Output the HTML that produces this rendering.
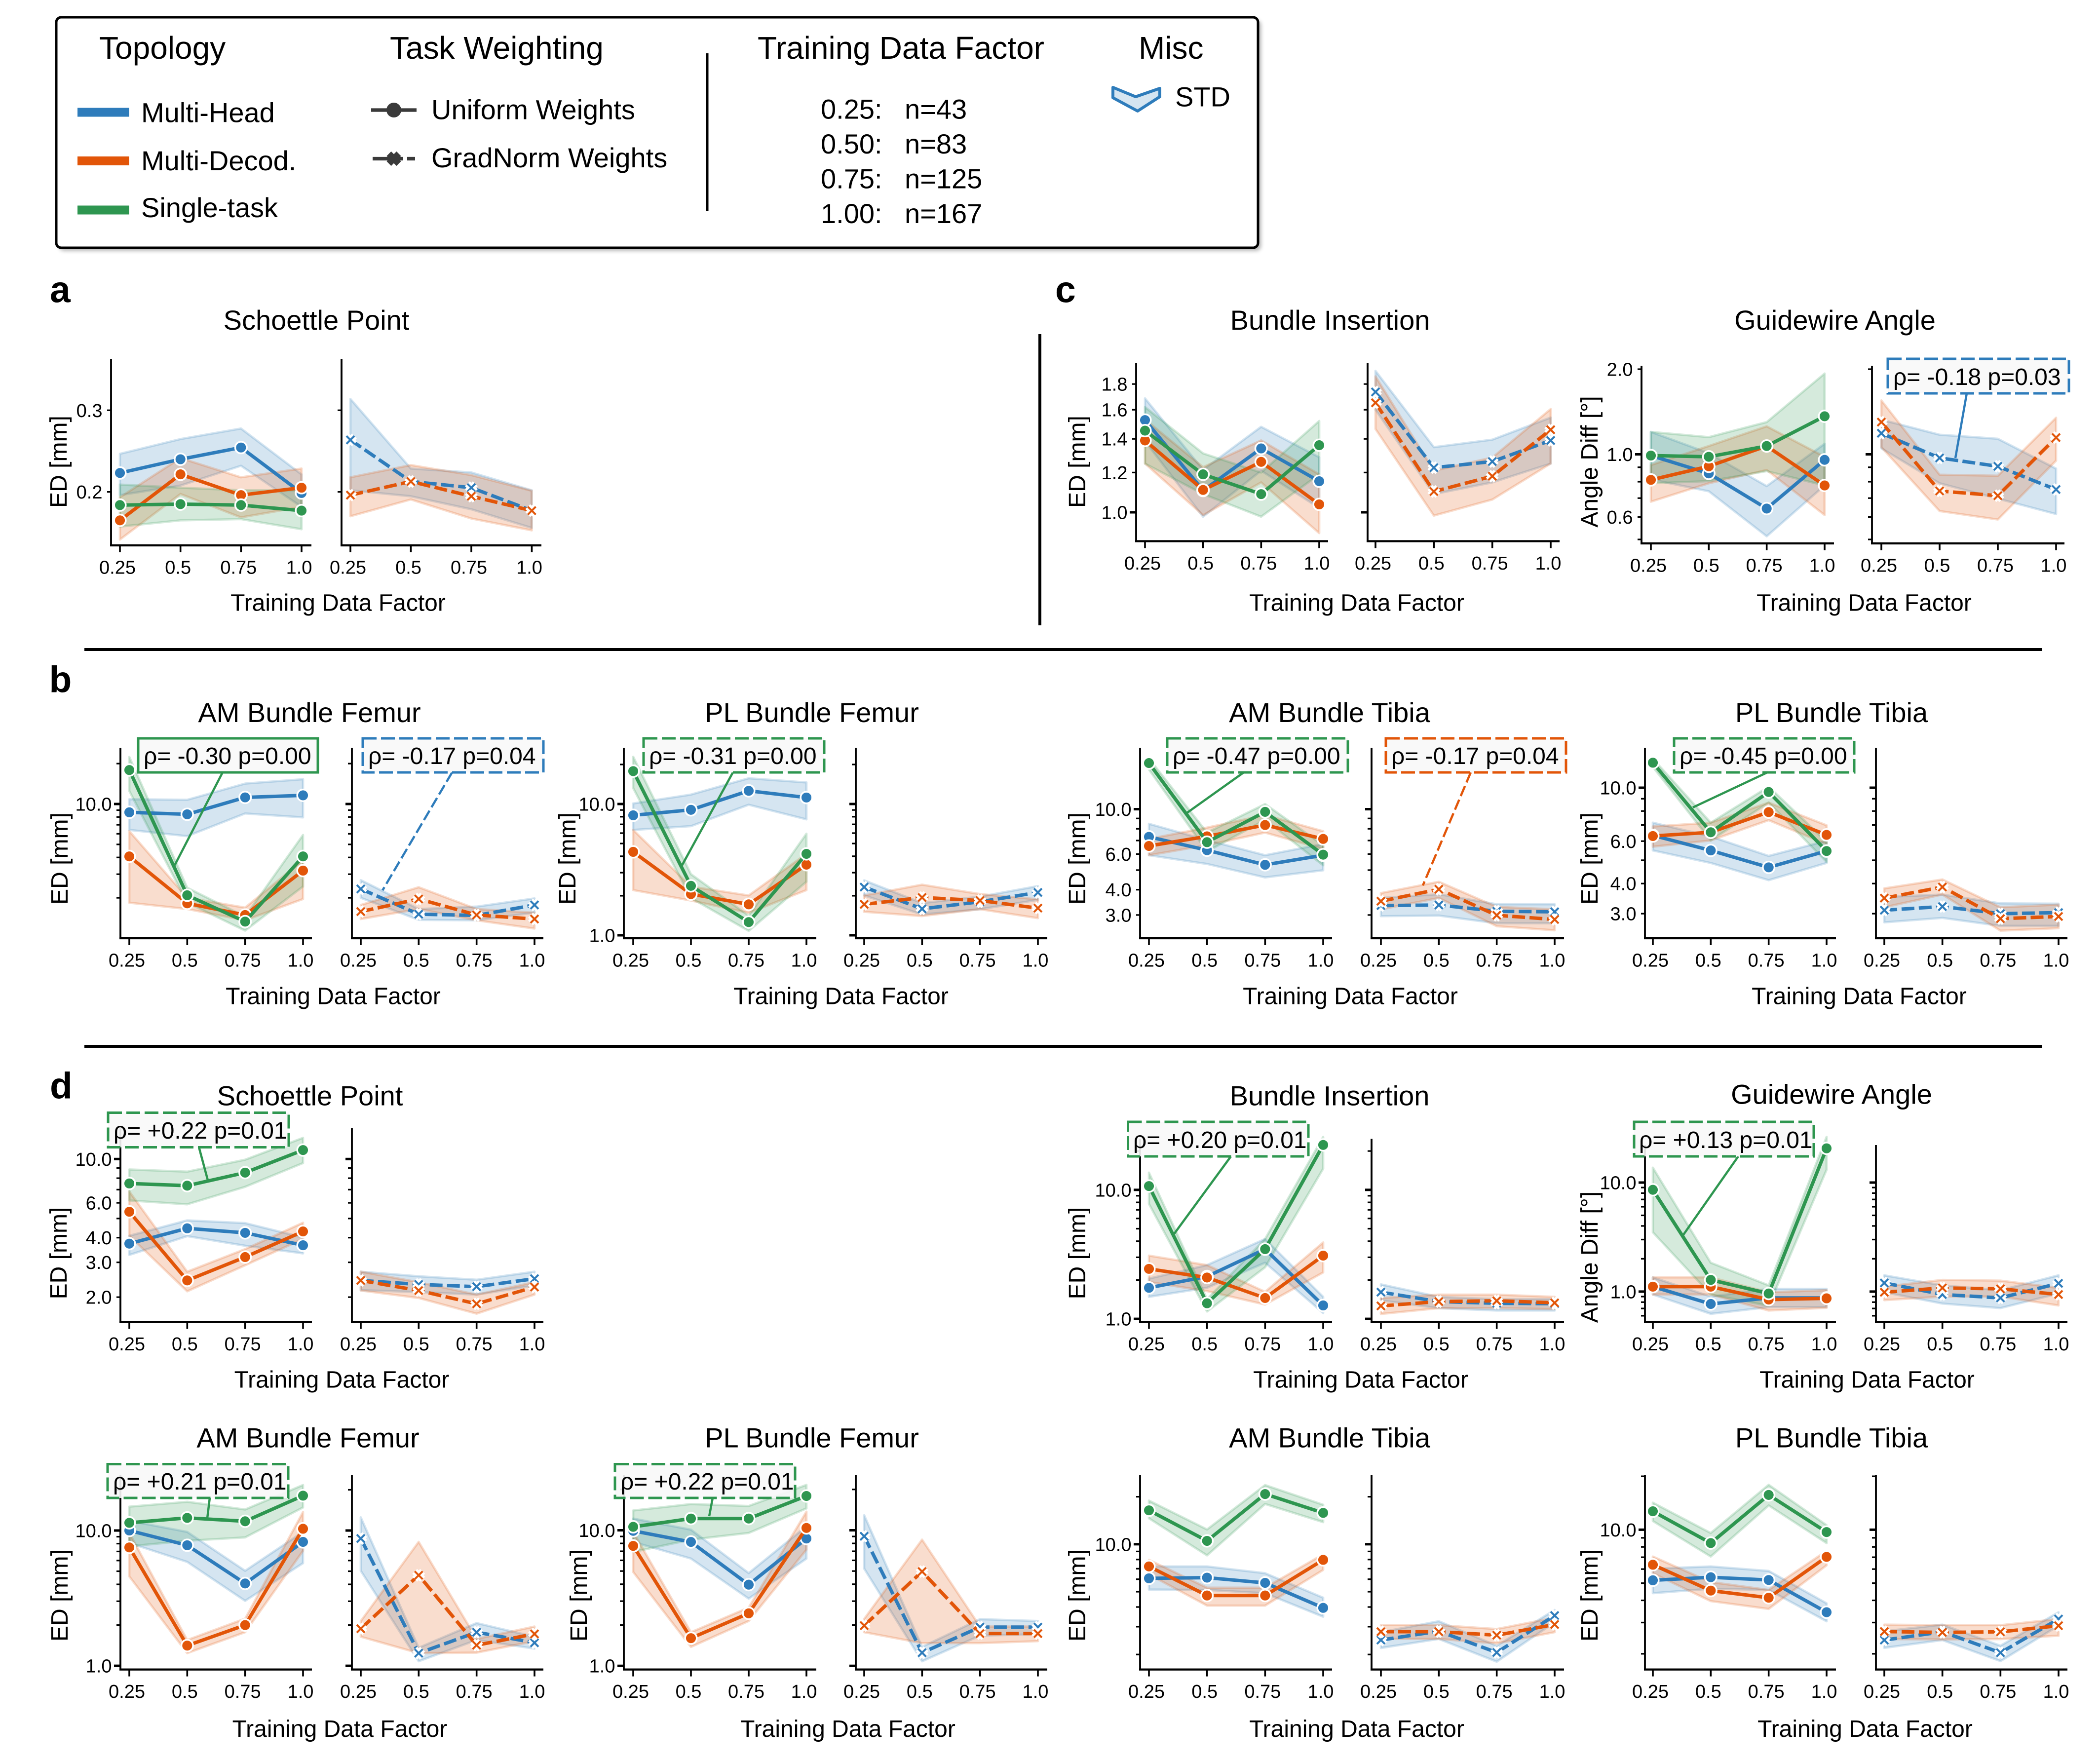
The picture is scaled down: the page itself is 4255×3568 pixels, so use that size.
<!DOCTYPE html>
<html lang="en">
<head>
<meta charset="utf-8">
<title>Training data factor vs error metrics</title>
<style>
html,body{margin:0;padding:0;background:#fff}
svg{display:block}
text{font-family:"Liberation Sans",sans-serif;fill:#000}
.tt{font-size:56px;text-anchor:middle}
.xl{font-size:48px;text-anchor:middle}
.yl{font-size:48px;text-anchor:middle}
.ltitle{font-size:64px}
.lent{font-size:56px}
.ann{font-size:48px}
.letter{font-size:75px;font-weight:bold}
.annbg{fill:#f8f8f8;fill-opacity:.9;stroke-width:5}
.gd{stroke:#2e964f;stroke-dasharray:28 9}
.gs{stroke:#2e964f}
.bd{stroke:#2e7cbb;stroke-dasharray:28 9}
.od{stroke:#e25508;stroke-dasharray:28 9}
</style>
</head>
<body>
<svg id="figure" xmlns="http://www.w3.org/2000/svg" width="4255" height="3568" viewBox="0 0 4255 3568">
<defs><filter id="blur" x="-5%" y="-10%" width="110%" height="120%"><feGaussianBlur stdDeviation="4"/></filter></defs>
<rect width="4255" height="3568" fill="#fff"/>

<g>
  <rect x="120" y="41" width="2435" height="467" rx="10" fill="#777" opacity=".55" filter="url(#blur)"/>
  <rect x="114" y="35" width="2435" height="467" rx="10" fill="#fff" stroke="#000" stroke-width="5"/>
  <text class="ltitle" x="201" y="119">Topology</text>
  <text class="ltitle" x="790" y="119">Task Weighting</text>
  <text class="ltitle" x="1535" y="119">Training Data Factor</text>
  <text class="ltitle" x="2307" y="119">Misc</text>
  <rect x="157" y="218.500" width="104.500" height="18" fill="#2e7cbb"/>
  <text class="lent" x="286" y="247.500">Multi-Head</text>
  <rect x="157" y="317" width="104.500" height="18" fill="#e25508"/>
  <text class="lent" x="286" y="345">Multi-Decod.</text>
  <rect x="157" y="416.500" width="104.500" height="18" fill="#2e9650"/>
  <text class="lent" x="286" y="440">Single-task</text>
  <g>
    <line x1="752" y1="223" x2="844" y2="223" stroke="#3a3a3a" stroke-width="7.300"/>
    <circle cx="798" cy="223" r="15" fill="#3a3a3a"/>
  </g>
  <text class="lent" x="874" y="241.500">Uniform Weights</text>
  <g>
    <line x1="755" y1="321.500" x2="817" y2="321.500" stroke="#3a3a3a" stroke-width="7.300"/>
    <line x1="825" y1="321.500" x2="841" y2="321.500" stroke="#3a3a3a" stroke-width="7.300"/>
    <path d="M788 311.500 L808 331.500 M808 311.500 L788 331.500" stroke="#3a3a3a" stroke-width="13" fill="none"/>
  </g>
  <text class="lent" x="874" y="339">GradNorm Weights</text>
  <line x1="1433" y1="108" x2="1433" y2="427" stroke="#000" stroke-width="5"/>
  <text class="lent" x="1663" y="240.500">0.25:</text><text class="lent" x="1833" y="240.500">n=43</text>
  <text class="lent" x="1663" y="311">0.50:</text><text class="lent" x="1833" y="311">n=83</text>
  <text class="lent" x="1663" y="381.500">0.75:</text><text class="lent" x="1833" y="381.500">n=125</text>
  <text class="lent" x="1663" y="452">1.00:</text><text class="lent" x="1833" y="452">n=167</text>
  <polygon points="2255,177 2301,196 2350,179 2350,196 2305,225 2255,198" fill="#2e7cbb" fill-opacity=".2" stroke="#2e7cbb" stroke-width="6" stroke-linejoin="round"/>
  <text class="lent" x="2381" y="215.500">STD</text>
</g>

<text class="letter" x="101" y="612.500">a</text>
<text class="letter" x="99.500" y="1402.500">b</text>
<text class="letter" x="2138" y="612.500">c</text>
<text class="letter" x="101" y="2225.500">d</text>

<line x1="2107" y1="677" x2="2107" y2="1267" stroke="#000" stroke-width="6"/>
<line x1="171" y1="1316" x2="4138" y2="1316" stroke="#000" stroke-width="6"/>
<line x1="171" y1="2120" x2="4138" y2="2120" stroke="#000" stroke-width="6"/>

<g id="plots"></g>

<g>
  <text class="tt" x="641" y="668">Schoettle Point</text>
  <text class="tt" x="2695" y="668">Bundle Insertion</text>
  <text class="tt" x="3718" y="668">Guidewire Angle</text>
  <text class="tt" x="627" y="1463">AM Bundle Femur</text>
  <text class="tt" x="1645" y="1463">PL Bundle Femur</text>
  <text class="tt" x="2694" y="1463">AM Bundle Tibia</text>
  <text class="tt" x="3711" y="1463">PL Bundle Tibia</text>
  <text class="tt" x="628" y="2239.500">Schoettle Point</text>
  <text class="tt" x="2694" y="2239.500">Bundle Insertion</text>
  <text class="tt" x="3711" y="2236.500">Guidewire Angle</text>
  <text class="tt" x="624" y="2932.500">AM Bundle Femur</text>
  <text class="tt" x="1645" y="2932.500">PL Bundle Femur</text>
  <text class="tt" x="2694" y="2932.500">AM Bundle Tibia</text>
  <text class="tt" x="3711" y="2932.500">PL Bundle Tibia</text>
</g>

<g>
  <text class="xl" x="685" y="1237.500">Training Data Factor</text>
  <text class="xl" x="2749" y="1237.500">Training Data Factor</text>
  <text class="xl" x="3777" y="1237.500">Training Data Factor</text>
  <text class="xl" x="675" y="2034.500">Training Data Factor</text>
  <text class="xl" x="1704" y="2034.500">Training Data Factor</text>
  <text class="xl" x="2736" y="2034.500">Training Data Factor</text>
  <text class="xl" x="3767" y="2034.500">Training Data Factor</text>
  <text class="xl" x="692.500" y="2811.500">Training Data Factor</text>
  <text class="xl" x="2757" y="2811.500">Training Data Factor</text>
  <text class="xl" x="3783" y="2811.500">Training Data Factor</text>
  <text class="xl" x="688.500" y="3519">Training Data Factor</text>
  <text class="xl" x="1718" y="3519">Training Data Factor</text>
  <text class="xl" x="2749" y="3519">Training Data Factor</text>
  <text class="xl" x="3779" y="3519">Training Data Factor</text>
</g>

<g>
  <text class="yl" transform="translate(135,935.500) rotate(-90)">ED [mm]</text>
  <text class="yl" transform="translate(2199,935.500) rotate(-90)">ED [mm]</text>
  <text class="yl" transform="translate(3237,935.500) rotate(-90)">Angle Diff [°]</text>
  <text class="yl" transform="translate(137,1739.500) rotate(-90)">ED [mm]</text>
  <text class="yl" transform="translate(1166,1739.500) rotate(-90)">ED [mm]</text>
  <text class="yl" transform="translate(2199,1739.500) rotate(-90)">ED [mm]</text>
  <text class="yl" transform="translate(3237,1739.500) rotate(-90)">ED [mm]</text>
  <text class="yl" transform="translate(135,2539) rotate(-90)">ED [mm]</text>
  <text class="yl" transform="translate(2199,2539) rotate(-90)">ED [mm]</text>
  <text class="yl" transform="translate(3237,2547) rotate(-90)">Angle Diff [°]</text>
  <text class="yl" transform="translate(137,3232.500) rotate(-90)">ED [mm]</text>
  <text class="yl" transform="translate(1189,3232.500) rotate(-90)">ED [mm]</text>
  <text class="yl" transform="translate(2199,3232.500) rotate(-90)">ED [mm]</text>
  <text class="yl" transform="translate(3237,3232.500) rotate(-90)">ED [mm]</text>
</g>

<g>
  <g>
    <line x1="3985" y1="797" x2="3962" y2="928" stroke="#2e7cbb" stroke-width="4.500"/>
    <rect class="annbg bd" x="3825" y="727" width="367" height="70"/>
    <text class="ann" x="3836" y="780">ρ= -0.18 p=0.03</text>
  </g>
  <g>
    <line x1="451" y1="1565" x2="354" y2="1753" stroke="#2e9650" stroke-width="4.500"/>
    <rect class="annbg gs" x="280" y="1496" width="364" height="69"/>
    <text class="ann" x="291" y="1548">ρ= -0.30 p=0.00</text>
  </g>
  <g>
    <line x1="916" y1="1565" x2="775" y2="1804" stroke="#2e7cbb" stroke-width="4.500" stroke-dasharray="22 8"/>
    <rect class="annbg bd" x="735" y="1496" width="366" height="69"/>
    <text class="ann" x="746" y="1548">ρ= -0.17 p=0.04</text>
  </g>
  <g>
    <line x1="1485" y1="1565" x2="1382" y2="1753" stroke="#2e9650" stroke-width="4.500"/>
    <rect class="annbg gd" x="1304" y="1496" width="366" height="69"/>
    <text class="ann" x="1315" y="1548">ρ= -0.31 p=0.00</text>
  </g>
  <g>
    <line x1="2520" y1="1565" x2="2405" y2="1647" stroke="#2e9650" stroke-width="4.500"/>
    <rect class="annbg gd" x="2365" y="1496" width="366" height="69"/>
    <text class="ann" x="2376" y="1548">ρ= -0.47 p=0.00</text>
  </g>
  <g>
    <line x1="2980" y1="1565" x2="2883" y2="1794" stroke="#e25508" stroke-width="4.500" stroke-dasharray="22 8"/>
    <rect class="annbg od" x="2808" y="1496" width="365" height="69"/>
    <text class="ann" x="2819" y="1548">ρ= -0.17 p=0.04</text>
  </g>
  <g>
    <line x1="3581" y1="1565" x2="3430" y2="1636" stroke="#2e9650" stroke-width="4.500"/>
    <rect class="annbg gd" x="3392" y="1496" width="365" height="69"/>
    <text class="ann" x="3403" y="1548">ρ= -0.45 p=0.00</text>
  </g>
  <g>
    <line x1="403" y1="2324" x2="421" y2="2391" stroke="#2e9650" stroke-width="4.500"/>
    <rect class="annbg gd" x="219" y="2254.500" width="366" height="70"/>
    <text class="ann" x="230" y="2307">ρ= +0.22 p=0.01</text>
  </g>
  <g>
    <line x1="2494" y1="2343" x2="2379" y2="2500" stroke="#2e9650" stroke-width="4.500"/>
    <rect class="annbg gd" x="2285.500" y="2273" width="365.500" height="70"/>
    <text class="ann" x="2296" y="2326">ρ= +0.20 p=0.01</text>
  </g>
  <g>
    <line x1="3522" y1="2343" x2="3410" y2="2503" stroke="#2e9650" stroke-width="4.500"/>
    <rect class="annbg gd" x="3311" y="2273" width="364" height="70"/>
    <text class="ann" x="3321" y="2326">ρ= +0.13 p=0.01</text>
  </g>
  <g>
    <line x1="425" y1="3035" x2="420" y2="3076" stroke="#2e9650" stroke-width="4.500"/>
    <rect class="annbg gd" x="218" y="2966.500" width="366" height="68.500"/>
    <text class="ann" x="229" y="3018">ρ= +0.21 p=0.01</text>
  </g>
  <g>
    <line x1="1444" y1="3035" x2="1437" y2="3072" stroke="#2e9650" stroke-width="4.500"/>
    <rect class="annbg gd" x="1246" y="2966.500" width="365" height="68.500"/>
    <text class="ann" x="1257" y="3018">ρ= +0.22 p=0.01</text>
  </g>
</g>
</svg>

<script>
// ---------- shared axis data ----------
const xCategories = [0.25, 0.5, 0.75, 1.0];
const xTickLabels = ['0.25', '0.5', '0.75', '1.0'];
const ticksMinorFull = [20, 9, 8, 7, 6, 5, 4, 3, 2];
const ticksMinorNoTop = [9, 8, 7, 6, 5, 4, 3];
const ticksMinorNo20 = [9, 8, 7, 6, 5, 4, 3, 2];
const ticksMinorGuideC = [2, 0.9, 0.8, 0.7, 0.6, 0.5];
const ticksMinorGuideD = [9, 8, 7, 6, 5, 4, 3, 2, 0.9, 0.8, 0.7, 0.6];
const ticksMinorBundleC = [1.2, 1.4, 1.6, 1.8];
const ticksMinorA = [0.2, 0.3];
const labelsA = [0.2, 0.3];
const labelsBundleC = [1.0, 1.2, 1.4, 1.6, 1.8];
const labelsGuideC = [2.0, 1.0, 0.6];
const labels10 = [10];
const labels10and1 = [10, 1];
const labelsTibiaB = [10, 6, 4, 3];
const labelsSchoettleD = [10, 6, 4, 3, 2];

// ---------- a: Schoettle Point ----------
const aU_head_mean=[.2197,.2352,.2493,.1989], aU_head_lo=[.1968,.2064,.2277,.1857], aU_head_hi=[.2416,.26,.274,.2182];
const aU_dec_mean=[.1736,.2182,.1968,.2042], aU_dec_lo=[.1578,.1979,.1762,.1857], aU_dec_hi=[.1947,.2366,.215,.2246];
const aU_single_mean=[.1873,.1882,.1873,.1822], aU_single_lo=[.1683,.1736,.1747,.1661], aU_single_hi=[.2074,.2042,.2016,.2016];
const aG_head_mean=[.2589,.2106,.2042,.1822], aG_head_lo=[.2016,.1957,.1834,.1672], aG_head_hi=[.3174,.2246,.2203,.2016];
const aG_dec_mean=[.1968,.2106,.1957,.1822], aG_dec_lo=[.1772,.1926,.1752,.1652], aG_dec_hi=[.215,.2285,.2174,.2011];

// ---------- c: Bundle Insertion ----------
const cbU_head_mean=[1.526,1.105,1.34,1.153], cbU_head_lo=[1.385,.98,1.21,1.02], cbU_head_hi=[1.686,1.215,1.48,1.287];
const cbU_dec_mean=[1.39,1.108,1.26,1.037], cbU_dec_lo=[1.25,.987,1.147,.909], cbU_dec_hi=[1.53,1.23,1.39,1.19];
const cbU_single_mean=[1.454,1.19,1.087,1.36], cbU_single_lo=[1.25,1.087,.98,1.19], cbU_single_hi=[1.62,1.31,1.2,1.52];
const cbG_head_mean=[1.736,1.227,1.262,1.39], cbG_head_lo=[1.6,1.087,1.147,1.25], cbG_head_hi=[1.912,1.348,1.395,1.544];
const cbG_dec_mean=[1.652,1.1,1.18,1.46], cbG_dec_lo=[1.465,.985,1.06,1.25], cbG_dec_hi=[1.864,1.21,1.285,1.605];

// ---------- c: Guidewire Angle ----------
const cgU_head_mean=[.99,.856,.643,.956], cgU_head_lo=[.815,.74,.513,.776], cgU_head_hi=[1.2,1.01,.772,1.09];
const cgU_dec_mean=[.812,.907,1.07,.776], cgU_dec_lo=[.68,.79,.88,.61], cgU_dec_hi=[.916,1.07,1.256,.98];
const cgU_single_mean=[.99,.98,1.07,1.363], cgU_single_lo=[.79,.804,.872,.776], cgU_single_hi=[1.2,1.15,1.3,1.93];
const cgG_head_mean=[1.187,.971,.907,.751], cgG_head_lo=[1.05,.79,.697,.615], cgG_head_hi=[1.326,1.173,1.135,.89];
const cgG_dec_mean=[1.3,.742,.714,1.146], cgG_dec_lo=[1.06,.63,.588,.95], cgG_dec_hi=[1.55,.847,.84,1.347];

// ---------- b: AM Bundle Femur ----------
const bafU_head_mean=[8.67,8.38,11.2,11.6], bafU_head_lo=[6.41,5.76,8.5,7.95], bafU_head_hi=[10.85,10.75,14.2,15.3];
const bafU_dec_mean=[4.07,1.82,1.49,3.19], bafU_dec_lo=[1.84,1.65,1.36,1.96], bafU_dec_hi=[6.28,2.0,1.69,3.82];
const bafU_single_mean=[17.9,2.09,1.33,4.07], bafU_single_lo=[12.5,1.84,1.14,2.43], bafU_single_hi=[22.4,2.38,1.45,5.88];
const bafG_head_mean=[2.33,1.51,1.48,1.77], bafG_head_lo=[2.0,1.37,1.36,1.55], bafG_head_hi=[2.71,1.65,1.72,1.98];
const bafG_dec_mean=[1.58,1.96,1.49,1.39], bafG_dec_lo=[1.39,1.65,1.36,1.18], bafG_dec_hi=[1.77,2.4,1.65,1.55];

// ---------- b: PL Bundle Femur ----------
const bpfU_head_mean=[8.2,9.03,12.6,11.2], bpfU_head_lo=[6.34,6.78,9.87,7.64], bpfU_head_hi=[10.1,11.8,15.7,14.6];
const bpfU_dec_mean=[4.32,2.06,1.72,3.45], bpfU_dec_lo=[2.21,1.84,1.48,2.21], bpfU_dec_hi=[6.34,2.35,2.01,4.17];
const bpfU_single_mean=[17.8,2.38,1.26,4.17], bpfU_single_lo=[13.2,1.92,1.08,2.56], bpfU_single_hi=[22.9,2.92,1.41,5.94];
const bpfG_head_mean=[2.33,1.59,1.8,2.12], bpfG_head_lo=[2.01,1.44,1.58,1.86], bpfG_head_hi=[2.62,1.76,1.97,2.37];
const bpfG_dec_mean=[1.72,1.94,1.84,1.61], bpfG_dec_lo=[1.51,1.4,1.58,1.35], bpfG_dec_hi=[2.01,2.43,2.06,1.88];

// ---------- b: AM Bundle Tibia ----------
const batU_head_mean=[7.3,6.27,5.31,5.92], batU_head_lo=[5.92,5.36,4.6,4.99], batU_head_hi=[8.47,7.03,5.92,6.73];
const batU_dec_mean=[6.58,7.34,8.35,7.13], batU_dec_lo=[5.92,6.64,7.66,6.36], batU_dec_hi=[7.13,8.11,9.36,7.78];
const batU_single_mean=[16.9,6.87,9.7,5.96], batU_single_lo=[15.7,6.18,8.85,5.28], batU_single_hi=[17.8,7.66,10.6,6.64];
const batG_head_mean=[3.34,3.36,3.13,3.11], batG_head_lo=[2.96,2.98,2.73,2.73], batG_head_hi=[3.64,3.8,3.39,3.39];
const batG_dec_mean=[3.51,4.02,2.99,2.85], batG_dec_lo=[3.2,3.64,2.64,2.52], batG_dec_hi=[3.85,4.38,3.29,3.2];

// ---------- b: PL Bundle Tibia ----------
const bptU_head_mean=[6.34,5.49,4.67,5.46], bptU_head_lo=[5.49,4.87,4.13,4.87], bptU_head_hi=[7.16,6.27,5.21,6.02];
const bptU_dec_mean=[6.3,6.53,7.92,6.37], bptU_dec_lo=[5.69,6.04,7.33,5.83], bptU_dec_hi=[6.9,7.16,8.67,6.98];
const bptU_single_mean=[12.7,6.53,9.6,5.46], bptU_single_lo=[12.2,6.04,8.67,4.92], bptU_single_hi=[13.2,7.16,10.1,5.97];
const bptG_head_mean=[3.1,3.21,3.0,3.03], bptG_head_lo=[2.76,2.88,2.67,2.67], bptG_head_hi=[3.52,3.6,3.31,3.3];
const bptG_dec_mean=[3.48,3.87,2.86,2.92], bptG_dec_lo=[3.19,3.6,2.55,2.61], bptG_dec_hi=[3.82,4.16,3.19,3.27];

// ---------- d: Schoettle Point ----------
const dspU_head_mean=[3.73,4.46,4.23,3.66], dspU_head_lo=[3.27,4.07,3.64,3.33], dspU_head_hi=[4.09,4.89,4.74,4.01];
const dspU_dec_mean=[5.41,2.43,3.19,4.3], dspU_dec_lo=[4.09,2.14,2.9,3.94], dspU_dec_hi=[6.85,2.69,3.5,4.76];
const dspU_single_mean=[7.52,7.33,8.53,11.1], dspU_single_lo=[6.17,5.9,7.23,9.54], dspU_single_hi=[8.85,8.63,9.92,12.8];
const dspG_head_mean=[2.43,2.32,2.26,2.48], dspG_head_lo=[2.17,2.12,2.06,2.29], dspG_head_hi=[2.69,2.55,2.45,2.69];
const dspG_dec_mean=[2.43,2.16,1.85,2.25], dspG_dec_lo=[2.16,1.98,1.65,2.06], dspG_dec_hi=[2.69,2.38,2.06,2.38];

// ---------- d: Bundle Insertion ----------
const dbiU_head_mean=[1.74,2.13,3.47,1.27], dbiU_head_lo=[1.48,1.74,2.72,1.11], dbiU_head_hi=[2.05,2.61,4.16,1.48];
const dbiU_dec_mean=[2.44,2.09,1.45,3.09], dbiU_dec_lo=[1.93,1.64,1.29,2.29], dbiU_dec_hi=[3.09,2.61,1.62,3.91];
const dbiU_single_mean=[10.7,1.32,3.47,22.3], dbiU_single_lo=[7.78,1.14,2.51,14.6], dbiU_single_hi=[13.6,1.42,4.16,25.7];
const dbiG_head_mean=[1.61,1.36,1.32,1.31], dbiG_head_lo=[1.39,1.21,1.16,1.16], dbiG_head_hi=[1.85,1.48,1.42,1.42];
const dbiG_dec_mean=[1.26,1.36,1.38,1.33], dbiG_dec_lo=[1.09,1.21,1.21,1.19], dbiG_dec_hi=[1.45,1.54,1.54,1.48];

// ---------- d: Guidewire Angle ----------
const dgaU_head_mean=[1.11,.77,.875,.875], dgaU_head_lo=[.94,.625,.72,.72], dgaU_head_hi=[1.35,.90,1.06,1.06];
const dgaU_dec_mean=[1.11,1.11,.845,.867], dgaU_dec_lo=[.94,.94,.67,.71], dgaU_dec_hi=[1.35,1.35,.986,1.03];
const dgaU_single_mean=[8.58,1.28,.96,20.6], dgaU_single_lo=[3.5,.94,.74,13.1], dgaU_single_hi=[13.7,1.84,1.14,26.2];
const dgaG_head_mean=[1.2,.94,.875,1.19], dgaG_head_lo=[.986,.776,.705,.96], dgaG_head_hi=[1.41,1.14,1.03,1.41];
const dgaG_dec_mean=[.986,1.08,1.06,.94], dgaG_dec_lo=[.834,.90,.90,.746], dgaG_dec_hi=[1.11,1.28,1.26,1.08];

// ---------- d: AM Bundle Femur ----------
const dafU_head_mean=[10,7.78,4.06,8.24], dafU_head_lo=[8.09,5.86,3.02,5.74], dafU_head_hi=[11.8,9.77,5.04,9.77];
const dafU_dec_mean=[7.5,1.41,2.0,10.3], dafU_dec_lo=[4.58,1.24,1.77,7.08], dafU_dec_hi=[9.6,1.55,2.23,13.7];
const dafU_single_mean=[11.4,12.4,11.7,18.1], dafU_single_lo=[7.64,8.4,8.89,14.8], dafU_single_hi=[15,16.3,14.3,21.7];
const dafG_head_mean=[8.73,1.24,1.77,1.48], dafG_head_lo=[5.04,1.08,1.55,1.34], dafG_head_hi=[12.5,1.36,2.07,1.64];
const dafG_dec_mean=[1.88,4.67,1.42,1.72], dafG_dec_lo=[1.64,1.24,1.25,1.52], dafG_dec_hi=[2.14,8.24,1.58,1.95];

// ---------- d: PL Bundle Femur ----------
const dpfU_head_mean=[9.9,8.2,3.97,8.69], dpfU_head_lo=[8.2,6.18,3.13,6.18], dpfU_head_hi=[12.2,10.1,4.83,10.7];
const dpfU_dec_mean=[7.67,1.6,2.44,10.4], dpfU_dec_lo=[4.92,1.38,2.14,7.19], dpfU_dec_hi=[9.7,1.77,2.69,13.7];
const dpfU_single_mean=[10.6,12.2,12.2,17.9], dpfU_single_lo=[6.92,8.53,9.55,14.5], dpfU_single_hi=[14,15.6,15.1,21.6];
const dpfG_head_mean=[9.03,1.25,1.93,1.93], dpfG_head_lo=[5.21,1.08,1.67,1.71], dpfG_head_hi=[12.9,1.38,2.21,2.14];
const dpfG_dec_mean=[1.98,4.96,1.73,1.73], dpfG_dec_lo=[1.77,1.47,1.47,1.52], dpfG_dec_hi=[2.22,8.53,1.95,1.95];

// ---------- d: AM Bundle Tibia ----------
const datU_head_mean=[6.08,6.14,5.69,3.95], datU_head_lo=[5.16,5.13,4.89,3.47], datU_head_hi=[7.23,7.23,6.55,4.58];
const datU_dec_mean=[7.23,4.73,4.73,7.96], datU_dec_lo=[6.44,4.08,4.08,6.87], datU_dec_hi=[7.96,5.3,5.3,8.63];
const datU_single_mean=[16.4,10.5,20.8,15.8], datU_single_lo=[14.6,8.5,18,13.8], datU_single_hi=[18.9,12.4,23.7,17.8];
const datG_head_mean=[2.47,2.81,2.06,3.53], datG_head_lo=[2.2,2.51,1.8,3.2], datG_head_hi=[2.77,3.25,2.27,3.83];
const datG_dec_mean=[2.79,2.79,2.65,3.1], datG_dec_lo=[2.51,2.51,2.35,2.77], datG_dec_hi=[3.07,3.07,2.9,3.42];

// ---------- d: PL Bundle Tibia ----------
const dptU_head_mean=[5.19,5.4,5.21,3.43], dptU_head_lo=[4.39,4.65,4.58,3.05], dptU_head_hi=[6.03,6.21,5.86,3.85];
const dptU_dec_mean=[6.35,4.54,4.14,7.03], dptU_dec_lo=[5.69,3.96,3.58,6.3], dptU_dec_hi=[7.06,5.07,4.58,7.6];
const dptU_single_mean=[12.7,8.41,15.7,9.7], dptU_single_lo=[11.2,7.06,13.7,8.41], dptU_single_hi=[14.2,9.58,17.9,10.6];
const dptG_head_mean=[2.39,2.66,2.03,3.14], dptG_head_lo=[2.16,2.39,1.82,2.88], dptG_head_hi=[2.68,2.92,2.22,3.43];
const dptG_dec_mean=[2.67,2.64,2.66,2.88], dptG_dec_lo=[2.42,2.41,2.42,2.53], dptG_dec_hi=[2.92,2.9,2.9,3.14];

// ---------- rendering ----------
const NS = 'http://www.w3.org/2000/svg';
const COLOR = { head: '#2e7cbb', dec: '#e25508', single: '#2e9650' };
const root = document.getElementById('plots');

function make(tag, attrs, parent) {
  const el = document.createElementNS(NS, tag);
  for (const k in attrs) el.setAttribute(k, attrs[k]);
  parent.appendChild(el);
  return el;
}
function fmt(v) { return v >= 1 ? v.toFixed(1) : String(v); }

function drawAxes(g, ax, yFn, withLabels) {
  const spineL = make('line', { x1: ax.x0, y1: ax.top, x2: ax.x0, y2: ax.bottom, stroke: '#000', 'stroke-width': 3.8 }, g);
  
  
  const spineB = make('line', { x1: ax.x0 - 2, y1: ax.bottom, x2: ax.x1, y2: ax.bottom, stroke: '#000', 'stroke-width': 4.3 }, g);
  
  
  xCategories.forEach(function (c, i) {
    const px = ax.xFn(c);
    const t = make('line', { x1: px, y1: ax.bottom, x2: px, y2: ax.bottom + 14, stroke: '#000', 'stroke-width': 3.6 }, g);
    
    
    const l = make('text', { x: px - 5, y: ax.bottom + 57.5, 'font-size': 38, 'text-anchor': 'middle' }, g);
    l.textContent = xTickLabels[i];
    
    
  });
  ax.major.forEach(function (v) {
    const py = yFn(v);
    const t = make('line', { x1: ax.x0 - 13, y1: py, x2: ax.x0, y2: py, stroke: '#000', 'stroke-width': 5 }, g);
    
    
  });
  ax.minor.forEach(function (v) {
    const py = yFn(v);
    const t = make('line', { x1: ax.x0 - 8, y1: py, x2: ax.x0, y2: py, stroke: '#000', 'stroke-width': 3.2 }, g);
    
    
  });
  if (withLabels) {
    ax.labels.forEach(function (v) {
      const l = make('text', { x: ax.x0 - 17.5, y: yFn(v) + 13.5, 'font-size': 38, 'text-anchor': 'end' }, g);
      l.textContent = fmt(v);
      
      
    });
  }
}

function drawSeries(g, ax, yFn, series, dashed) {
  series.forEach(function (s) {
    const up = s.hi.map(function (v, i) { return ax.xFn(xCategories[i]).toFixed(1) + ',' + yFn(v).toFixed(1); });
    const dn = s.lo.map(function (v, i) { return ax.xFn(xCategories[i]).toFixed(1) + ',' + yFn(v).toFixed(1); }).reverse();
    const band = make('polygon', { points: up.concat(dn).join(' '), fill: COLOR[s.topo], 'fill-opacity': 0.2, stroke: COLOR[s.topo], 'stroke-opacity': 0.2, 'stroke-width': 4.7, 'stroke-linejoin': 'round' }, g);
    
    
  });
  series.forEach(function (s) {
    const pts = s.mean.map(function (v, i) { return ax.xFn(xCategories[i]).toFixed(1) + ',' + yFn(v).toFixed(1); }).join(' ');
    const line = make('polyline', { points: pts, fill: 'none', stroke: COLOR[s.topo], 'stroke-width': 7, 'stroke-dasharray': dashed ? '26 9' : 'none' }, g);
    
    
    s.mean.forEach(function (v, i) {
      const px = ax.xFn(xCategories[i]);
      const py = yFn(v);
      if (dashed) {
        const d = 'M' + (px - 8) + ' ' + (py - 8) + 'L' + (px + 8) + ' ' + (py + 8) + 'M' + (px + 8) + ' ' + (py - 8) + 'L' + (px - 8) + ' ' + (py + 8);
        const halo = make('path', { d: d, fill: 'none', stroke: '#fff', 'stroke-width': 14 }, g);
        
        
        const mk = make('path', { d: d, fill: 'none', stroke: COLOR[s.topo], 'stroke-width': 4 }, g);
        
        
      } else {
        const c = make('circle', { cx: px, cy: py, r: 11.8, fill: COLOR[s.topo], stroke: '#fff', 'stroke-width': 3.5 }, g);
        
        
      }
    });
  });
}

function trio(m1, l1, h1, m2, l2, h2, m3, l3, h3) {
  const out = [
    { topo: 'head', mean: m1, lo: l1, hi: h1 },
    { topo: 'dec', mean: m2, lo: l2, hi: h2 }
  ];
  if (m3) out.push({ topo: 'single', mean: m3, lo: l3, hi: h3 });
  return out;
}

function subplotPair(name, geo, left, right) {
  const yFn = function (v) { return geo.refY - geo.k * Math.log10(v / geo.ref); };
  const group = make('g', {}, root);
  
  
  [[geo.L, left, false, true], [geo.R, right, true, false]].forEach(function (p) {
    const g = geo;
    const xs = p[0];
    const ax = {
      x0: xs[0], x1: xs[3], top: g.top, bottom: g.bottom, major: g.major, minor: g.minor, labels: g.labels,
      xFn: function (c) { return xs[1] + (c - xCategories[0]) / (xCategories[3] - xCategories[0]) * (xs[2] - xs[1]); }
    };
    const sub = make('g', {}, group);
    
    
    drawSeries(sub, ax, yFn, p[1], p[2]);
    drawAxes(sub, ax, yFn, p[3]);
  });
}

const colA = { L: [244, 262, 614, 632], R: [713, 731, 1083, 1101] };
const colB = { L: [1264, 1283, 1634, 1654], R: [1734, 1751, 2103, 2122] };
const colC = { L: [2310, 2328, 2681, 2699], R: [2779, 2798, 3150, 3169] };
const colD = { L: [3333, 3349, 3701, 3720], R: [3801, 3818, 4171, 4189] };

subplotPair('panel-a-schoettle-point',
  { L: [225, 243, 611, 631], R: [692, 710, 1077.5, 1097], top: 727, bottom: 1105, ref: 0.2, refY: 996.6, k: 939, major: [], minor: ticksMinorA, labels: labelsA },
  trio(aU_head_mean, aU_head_lo, aU_head_hi, aU_dec_mean, aU_dec_lo, aU_dec_hi, aU_single_mean, aU_single_lo, aU_single_hi),
  trio(aG_head_mean, aG_head_lo, aG_head_hi, aG_dec_mean, aG_dec_lo, aG_dec_hi));

subplotPair('panel-c-bundle-insertion',
  { L: [2302, 2320, 2673, 2691], R: [2771, 2787, 3142, 3160], top: 735, bottom: 1096.5, ref: 1, refY: 1038, k: 1018, major: [1], minor: ticksMinorBundleC, labels: labelsBundleC },
  trio(cbU_head_mean, cbU_head_lo, cbU_head_hi, cbU_dec_mean, cbU_dec_lo, cbU_dec_hi, cbU_single_mean, cbU_single_lo, cbU_single_hi),
  trio(cbG_head_mean, cbG_head_lo, cbG_head_hi, cbG_dec_mean, cbG_dec_lo, cbG_dec_hi));

subplotPair('panel-c-guidewire-angle',
  { L: [3326, 3345, 3697, 3716], R: [3793, 3812, 4166, 4183], top: 741, bottom: 1101, ref: 1, refY: 920.5, k: 573, major: [1], minor: ticksMinorGuideC, labels: labelsGuideC },
  trio(cgU_head_mean, cgU_head_lo, cgU_head_hi, cgU_dec_mean, cgU_dec_lo, cgU_dec_hi, cgU_single_mean, cgU_single_lo, cgU_single_hi),
  trio(cgG_head_mean, cgG_head_lo, cgG_head_hi, cgG_dec_mean, cgG_dec_lo, cgG_dec_hi));

subplotPair('panel-b-am-bundle-femur',
  { L: colA.L, R: colA.R, top: 1515, bottom: 1901, ref: 10, refY: 1629, k: 272, major: [10], minor: ticksMinorFull, labels: labels10 },
  trio(bafU_head_mean, bafU_head_lo, bafU_head_hi, bafU_dec_mean, bafU_dec_lo, bafU_dec_hi, bafU_single_mean, bafU_single_lo, bafU_single_hi),
  trio(bafG_head_mean, bafG_head_lo, bafG_head_hi, bafG_dec_mean, bafG_dec_lo, bafG_dec_hi));

subplotPair('panel-b-pl-bundle-femur',
  { L: colB.L, R: colB.R, top: 1515, bottom: 1901, ref: 10, refY: 1629, k: 266, major: [10, 1], minor: ticksMinorFull, labels: labels10and1 },
  trio(bpfU_head_mean, bpfU_head_lo, bpfU_head_hi, bpfU_dec_mean, bpfU_dec_lo, bpfU_dec_hi, bpfU_single_mean, bpfU_single_lo, bpfU_single_hi),
  trio(bpfG_head_mean, bpfG_head_lo, bpfG_head_hi, bpfG_dec_mean, bpfG_dec_lo, bpfG_dec_hi));

subplotPair('panel-b-am-bundle-tibia',
  { L: colC.L, R: colC.R, top: 1515, bottom: 1901, ref: 10, refY: 1639.5, k: 410, major: [10], minor: ticksMinorNoTop, labels: labelsTibiaB },
  trio(batU_head_mean, batU_head_lo, batU_head_hi, batU_dec_mean, batU_dec_lo, batU_dec_hi, batU_single_mean, batU_single_lo, batU_single_hi),
  trio(batG_head_mean, batG_head_lo, batG_head_hi, batG_dec_mean, batG_dec_lo, batG_dec_hi));

subplotPair('panel-b-pl-bundle-tibia',
  { L: colD.L, R: colD.R, top: 1515, bottom: 1901, ref: 10, refY: 1596, k: 488, major: [10], minor: ticksMinorNoTop, labels: labelsTibiaB },
  trio(bptU_head_mean, bptU_head_lo, bptU_head_hi, bptU_dec_mean, bptU_dec_lo, bptU_dec_hi, bptU_single_mean, bptU_single_lo, bptU_single_hi),
  trio(bptG_head_mean, bptG_head_lo, bptG_head_hi, bptG_dec_mean, bptG_dec_lo, bptG_dec_hi));

subplotPair('panel-d-schoettle-point',
  { L: colA.L, R: colA.R, top: 2286, bottom: 2678.6, ref: 10, refY: 2348.3, k: 400.4, major: [10], minor: ticksMinorNo20, labels: labelsSchoettleD },
  trio(dspU_head_mean, dspU_head_lo, dspU_head_hi, dspU_dec_mean, dspU_dec_lo, dspU_dec_hi, dspU_single_mean, dspU_single_lo, dspU_single_hi),
  trio(dspG_head_mean, dspG_head_lo, dspG_head_hi, dspG_dec_mean, dspG_dec_lo, dspG_dec_hi));

subplotPair('panel-d-bundle-insertion',
  { L: colC.L, R: colC.R, top: 2307.5, bottom: 2678.6, ref: 10, refY: 2410.8, k: 261.3, major: [10, 1], minor: ticksMinorFull, labels: labels10and1 },
  trio(dbiU_head_mean, dbiU_head_lo, dbiU_head_hi, dbiU_dec_mean, dbiU_dec_lo, dbiU_dec_hi, dbiU_single_mean, dbiU_single_lo, dbiU_single_hi),
  trio(dbiG_head_mean, dbiG_head_lo, dbiG_head_hi, dbiG_dec_mean, dbiG_dec_lo, dbiG_dec_hi));

subplotPair('panel-d-guidewire-angle',
  { L: colD.L, R: colD.R, top: 2320, bottom: 2678.6, ref: 10, refY: 2396, k: 220.9, major: [10, 1], minor: ticksMinorGuideD, labels: labels10and1 },
  trio(dgaU_head_mean, dgaU_head_lo, dgaU_head_hi, dgaU_dec_mean, dgaU_dec_lo, dgaU_dec_hi, dgaU_single_mean, dgaU_single_lo, dgaU_single_hi),
  trio(dgaG_head_mean, dgaG_head_lo, dgaG_head_hi, dgaG_dec_mean, dgaG_dec_lo, dgaG_dec_hi));

subplotPair('panel-d-am-bundle-femur',
  { L: colA.L, R: colA.R, top: 2989, bottom: 3382.6, ref: 10, refY: 3101, k: 274.1, major: [10, 1], minor: ticksMinorFull, labels: labels10and1 },
  trio(dafU_head_mean, dafU_head_lo, dafU_head_hi, dafU_dec_mean, dafU_dec_lo, dafU_dec_hi, dafU_single_mean, dafU_single_lo, dafU_single_hi),
  trio(dafG_head_mean, dafG_head_lo, dafG_head_hi, dafG_dec_mean, dafG_dec_lo, dafG_dec_hi));

subplotPair('panel-d-pl-bundle-femur',
  { L: colB.L, R: colB.R, top: 2989, bottom: 3382.6, ref: 10, refY: 3100.5, k: 274.7, major: [10, 1], minor: ticksMinorFull, labels: labels10and1 },
  trio(dpfU_head_mean, dpfU_head_lo, dpfU_head_hi, dpfU_dec_mean, dpfU_dec_lo, dpfU_dec_hi, dpfU_single_mean, dpfU_single_lo, dpfU_single_hi),
  trio(dpfG_head_mean, dpfG_head_lo, dpfG_head_hi, dpfG_dec_mean, dpfG_dec_lo, dpfG_dec_hi));

subplotPair('panel-d-am-bundle-tibia',
  { L: colC.L, R: colC.R, top: 2989, bottom: 3382.6, ref: 10, refY: 3128.8, k: 319.6, major: [10], minor: ticksMinorFull, labels: labels10 },
  trio(datU_head_mean, datU_head_lo, datU_head_hi, datU_dec_mean, datU_dec_lo, datU_dec_hi, datU_single_mean, datU_single_lo, datU_single_hi),
  trio(datG_head_mean, datG_head_lo, datG_head_hi, datG_dec_mean, datG_dec_lo, datG_dec_hi));

subplotPair('panel-d-pl-bundle-tibia',
  { L: colD.L, R: colD.R, top: 2989, bottom: 3382.6, ref: 10, refY: 3099.4, k: 359.7, major: [10], minor: ticksMinorFull, labels: labels10 },
  trio(dptU_head_mean, dptU_head_lo, dptU_head_hi, dptU_dec_mean, dptU_dec_lo, dptU_dec_hi, dptU_single_mean, dptU_single_lo, dptU_single_hi),
  trio(dptG_head_mean, dptG_head_lo, dptG_head_hi, dptG_dec_mean, dptG_dec_lo, dptG_dec_hi));
</script>
</body>
</html>
